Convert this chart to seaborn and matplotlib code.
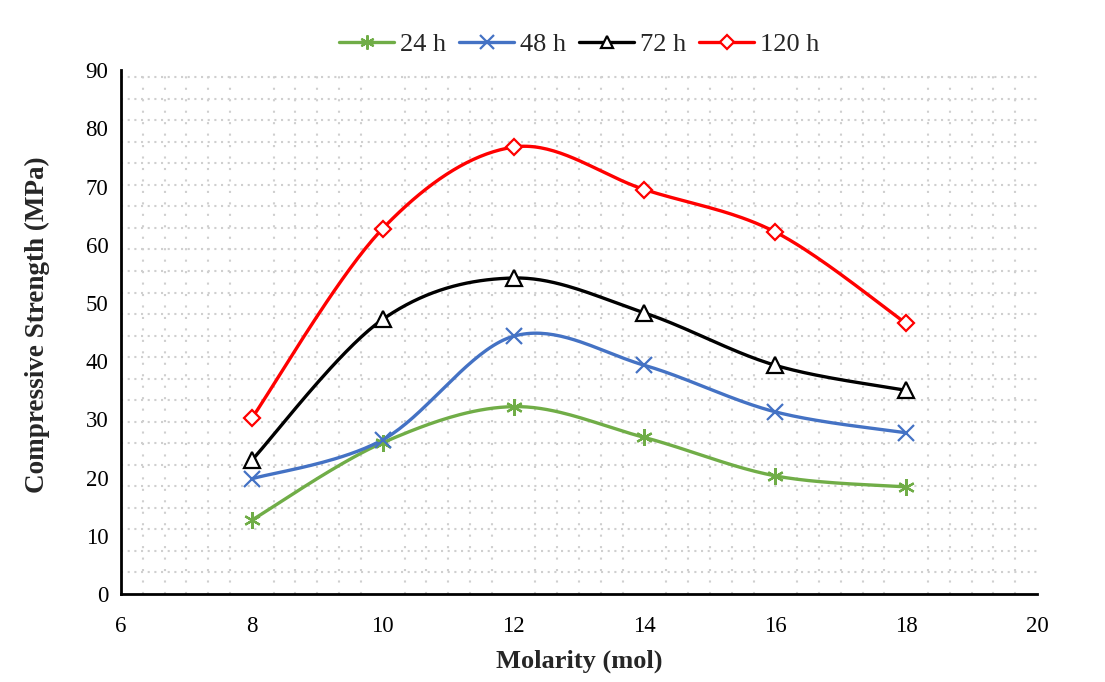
import numpy as np
import pandas as pd
import matplotlib
matplotlib.use("Agg")
import matplotlib.pyplot as plt
from matplotlib.lines import Line2D
from matplotlib.ticker import MultipleLocator
import seaborn as sns

# ---- data ----
molarity = [8, 10, 12, 14, 16, 18]
s24 = [12.7, 26.0, 32.2, 26.9, 20.3, 18.4]
s48 = [19.8, 26.5, 44.3, 39.3, 31.3, 27.7]
s72 = [23.0, 47.2, 54.3, 48.3, 39.3, 35.0]
s120 = [30.2, 62.8, 76.8, 69.5, 62.2, 46.5]
series_names = ["24 h", "48 h", "72 h", "120 h"]
xticks = [6, 8, 10, 12, 14, 16, 18, 20]
yticks = [0, 10, 20, 30, 40, 50, 60, 70, 80, 90]

colors = ["#70AD47", "#4472C4", "#000000", "#FF0000"]
markers = [(6, 2, 0), "x", "^", "D"]
msizes = [12, 12, 11, 8.5]


def excel_smooth(x, y, n=40):
    """Excel-style smoothed line (Catmull-Rom via cubic Bezier)."""
    x = np.asarray(x, float)
    y = np.asarray(y, float)
    P = np.column_stack([x, y])
    Pext = np.vstack([P[0], P, P[-1]])
    out = []
    t = np.linspace(0, 1, n)[:, None]
    for i in range(len(P) - 1):
        p0, p1, p2, p3 = Pext[i], Pext[i + 1], Pext[i + 2], Pext[i + 3]
        b1 = p1 + (p2 - p0) / 6.0
        b2 = p2 - (p3 - p1) / 6.0
        seg = ((1 - t) ** 3) * p1 + 3 * ((1 - t) ** 2) * t * b1 + 3 * (1 - t) * t ** 2 * b2 + t ** 3 * p2
        out.append(seg if i == 0 else seg[1:])
    out = np.vstack(out)
    return out[:, 0], out[:, 1]


sns.set_theme(style="white")
plt.rcParams["font.family"] = ["Liberation Serif", "DejaVu Serif"]

fig = plt.figure(figsize=(11.05, 6.82), dpi=100)
ax = fig.add_axes([0.1095, 0.129, 0.829, 0.768])

frames = []
for name, vals in zip(series_names, [s24, s48, s72, s120]):
    sx, sy = excel_smooth(molarity, vals)
    frames.append(pd.DataFrame({"x": sx, "y": sy, "series": name}))
smooth_df = pd.concat(frames, ignore_index=True)

pts_df = pd.concat([
    pd.DataFrame({"x": molarity, "y": v, "series": n})
    for n, v in zip(series_names, [s24, s48, s72, s120])
], ignore_index=True)

palette = dict(zip(series_names, colors))
sns.lineplot(data=smooth_df, x="x", y="y", hue="series", palette=palette,
             sort=False, estimator=None, units="series", linewidth=2.4,
             legend=False, ax=ax, zorder=3)

for name, c, m, ms in zip(series_names, colors, markers, msizes):
    sub = pts_df[pts_df["series"] == name]
    face = c if m in [(6, 2, 0), "x"] else "white"
    ax.plot(sub["x"], sub["y"], linestyle="none", marker=m, markersize=ms,
            markeredgecolor=c, markerfacecolor=face, markeredgewidth=1.6, zorder=4)

ax.set_xlim(6, 20)
ax.set_ylim(0, 90)
ax.set_xticks(xticks)
ax.set_yticks(yticks)
ax.tick_params(axis="both", length=0, labelsize=16.5, colors="black")
ax.tick_params(axis="y", pad=9)
ax.tick_params(axis="x", pad=16)

# dotted-grid pattern of the plot area
ax.xaxis.set_minor_locator(MultipleLocator(1 / 3))
ax.yaxis.set_minor_locator(MultipleLocator(3.7))
ax.grid(False)
ax.grid(which="minor", axis="y", linestyle=(0, (1, 2.2)), color="#cfcfcf", linewidth=1.5)
ax.grid(which="minor", axis="x", linestyle=(0, (1, 4.5)), color="#cfcfcf", linewidth=1.5)
ax.tick_params(which="minor", length=0)
ax.set_axisbelow(True)

for s in ["top", "right"]:
    ax.spines[s].set_visible(False)
for s in ["left", "bottom"]:
    ax.spines[s].set_visible(True)
    ax.spines[s].set_color("black")
    ax.spines[s].set_linewidth(2)

ax.set_xlabel("Molarity (mol)", fontsize=19, fontweight="bold", labelpad=9)
ax.set_ylabel("Compressive Strength (MPa)", fontsize=19.5, fontweight="bold")
ax.yaxis.set_label_coords(-0.078, 0.515)

handles = []
for name, c, m, ms in zip(series_names, colors, markers, msizes):
    face = c if m in [(6, 2, 0), "x"] else "white"
    handles.append(Line2D([0], [0], color=c, linewidth=2.4, marker=m, markersize=ms * 0.85,
                          markeredgecolor=c, markerfacecolor=face, markeredgewidth=1.6))
fig.legend(handles, series_names, loc="center", bbox_to_anchor=(0.524, 0.935), ncol=4,
           frameon=False, fontsize=19, handlelength=2.1, columnspacing=0.5, handletextpad=0.2)

fig.savefig("out.png", dpi=100, facecolor="white")
